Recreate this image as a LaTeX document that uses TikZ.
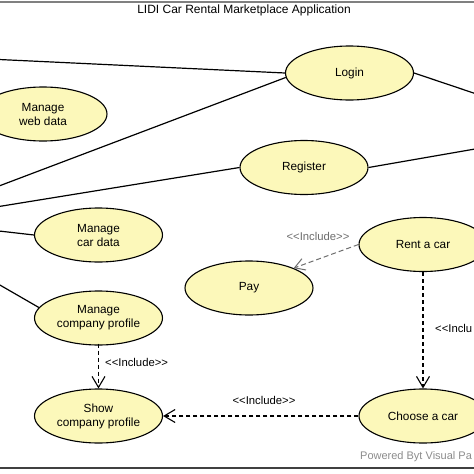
\documentclass[tikz,border=0pt]{standalone}
\usepackage{fontspec}
\setmainfont{Liberation Sans}
\usetikzlibrary{shapes.geometric,arrows.meta}
\definecolor{ucfill}{RGB}{252,248,186}
\definecolor{incgray}{RGB}{110,110,110}
\newcommand{\incl}{{<}{<}Include{>}{>}}
\tikzset{
  usecase/.style={ellipse,draw=black,line width=1.1pt,fill=ucfill,minimum width=128pt,minimum height=54pt,inner sep=0pt,align=center,font=\fontsize{11.8}{14}\selectfont},
  assoc/.style={draw=black,line width=1.2pt},
  inclarrow/.style={draw=black,line width=1.2pt,dash pattern=on 4pt off 3pt,-{Straight Barb[length=11pt,width=13pt,line width=1.1pt]}},
  inclgray/.style={draw=incgray,line width=1pt,dash pattern=on 5pt off 3pt,-{Straight Barb[length=10pt,width=12pt,line width=1pt]}},
  stereo/.style={font=\fontsize{11.3}{13}\selectfont,inner sep=0pt},
}
\begin{document}
\begin{tikzpicture}[x=1pt,y=-1pt]
\useasboundingbox (0,0) rectangle (474,474);
\fill[white] (0,0) rectangle (474,474);
\clip (0,0) rectangle (474,474);
% frame lines
\draw[gray,line width=1.5pt] (-5,2) -- (480,2);
\draw[black!75,line width=2pt] (-5,467.5) -- (480,467.5);
% title
\node[font=\fontsize{12}{14}\selectfont,inner sep=0pt] (title) at (244,10) {LIDI Car Rental Marketplace Application};
% use cases
\node[usecase] (login) at (349.5,73) {Login};
\node[usecase] (mwd) at (43,114) {Manage\\web data};
\node[usecase] (register) at (304,167.5) {Register};
\node[usecase] (mcd) at (98.5,235) {Manage\\car data};
\node[usecase] (rent) at (423,244.5) {Rent a car};
\node[usecase] (pay) at (249,288) {Pay};
\node[usecase] (mcp) at (98.5,318) {Manage\\company profile};
\node[usecase] (show) at (98.5,416) {Show\\company profile};
\node[usecase] (choose) at (423,416) {Choose a car};
% free ends of associations
\coordinate (l1) at (-1,59.5);
\coordinate (l2) at (-1,186);
\coordinate (l3) at (-1,206.5);
\coordinate (l4) at (-1,231);
\coordinate (l5) at (-1,284.5);
\coordinate (r1) at (475,93.5);
\coordinate (r2) at (475,149);
% associations
\draw[assoc] (l1) -- (login.west);
\draw[assoc] (l2) -- (login.184);
\draw[assoc] (l3) -- (register.west);
\draw[assoc] (l4) -- (mcd.west);
\draw[assoc] (l5) -- (mcp.170);
\draw[assoc] (login.east) -- (r1);
\draw[assoc] (register.east) -- (r2);
% includes
\draw[inclgray] (rent.west) -- (pay.24);
\node[stereo,text=incgray] (lab1) at (318,236.5) {\incl};
\draw[inclarrow] (rent.south) -- (choose.north);
\node[stereo,anchor=west] (lab2) at (435,328) {{<}{<}Inclu};
\draw[inclarrow] ([yshift=2pt]mcp.south) -- (show.north);
\node[stereo,anchor=west] (lab3) at (105,362.5) {\incl};
\draw[inclarrow] (choose.west) -- (show.east);
\node[stereo] (lab4) at (264,400.5) {\incl};
% footer
\node[font=\fontsize{11}{13}\selectfont,text=black!45,anchor=west,inner sep=0pt] (foot) at (360,456.5) {Powered Byt Visual Pa};
\end{tikzpicture}
\end{document}
